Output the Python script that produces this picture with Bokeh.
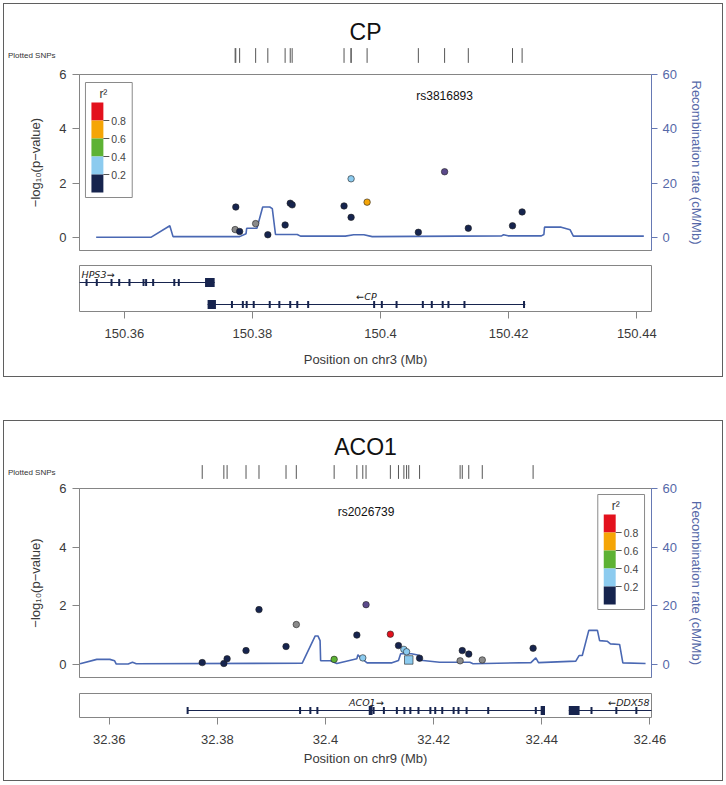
from bokeh.plotting import figure
from bokeh.models import Range1d, LinearAxis, FixedTicker, ColumnDataSource
from bokeh.layouts import column
from bokeh.core.properties import value
from bokeh.embed import file_html
from bokeh.resources import INLINE

FONT = "Liberation Sans"

# ------------------------------------------------------------------ data: CP
cp_title = "CP"
cp_chrom = "chr3"
cp_index_snp = "rs3816893"
cp_index_pos = 150.4100
cp_xlim = [150.3530, 150.4423]
cp_xticks = [150.36, 150.38, 150.40, 150.42, 150.44]
cp_xtick_labels = ["150.36", "150.38", "150.4", "150.42", "150.44"]
cp_snp_pos = [150.3774, 150.3773, 150.3780, 150.3805, 150.3824, 150.3851, 150.3859,
              150.3862, 150.3943, 150.3954, 150.3954, 150.3979, 150.4059, 150.4100,
              150.4137, 150.4206, 150.4221]
cp_snp_logp = [1.12, 0.29, 0.22, 0.51, 0.10, 0.46, 1.26, 1.20, 1.16, 0.74, 2.16,
               1.30, 0.19, 2.42, 0.34, 0.43, 0.94]
cp_snp_r2 = [0.1, None, 0.1, None, 0.1, 0.1, 0.1, 0.1, 0.1, 0.1, 0.3, 0.7, 0.1,
             1.0, 0.1, 0.1, 0.1]
cp_snp_shape = ["circle"] * 17
cp_rec_pos = [150.3556, 150.3642, 150.3671, 150.3676, 150.3780, 150.3790, 150.3791,
              150.3807, 150.3816, 150.3827, 150.3831, 150.3836, 150.3870, 150.3875,
              150.3945, 150.3958, 150.3974, 150.3987, 150.4189, 150.4192, 150.4199,
              150.4251, 150.4255, 150.4256, 150.4282, 150.4296, 150.4301, 150.4411]
cp_rec_rate = [0.1, 0.1, 4.3, 0.3, 0.3, 1.4, 3.4, 3.4, 11.2, 11.2, 10.6, 1.1, 1.1, 0.5,
               0.5, 1.0, 1.0, 0.3, 0.6, 1.0, 0.6, 0.6, 1.1, 3.8, 3.8, 2.8, 0.5, 0.5]
cp_gene_names = ["HPS3", "CP"]
cp_gene_start = [150.3300, 150.3730]
cp_gene_end = [150.3741, 150.4226]
cp_gene_strand = ["+", "-"]
cp_gene_row = [0, 1]
cp_gene_exons = [
    [150.3541, 150.3557, 150.3580, 150.3592, 150.3608, 150.3630, 150.3634, 150.3645,
     150.3678, 150.3685],
    [150.3768, 150.3785, 150.3791, 150.3802, 150.3827, 150.3842, 150.3859, 150.3870,
     150.3887, 150.3990, 150.4002, 150.4025, 150.4066, 150.4080, 150.4097, 150.4106,
     150.4131, 150.4224],
]
cp_gene_blocks = [[(150.3726, 150.3741)], [(150.3730, 150.3743)]]

# ---------------------------------------------------------------- data: ACO1
aco_title = "ACO1"
aco_chrom = "chr9"
aco_index_snp = "rs2026739"
aco_index_pos = 32.4075
aco_xlim = [32.3545, 32.4603]
aco_xticks = [32.36, 32.38, 32.40, 32.42, 32.44, 32.46]
aco_xtick_labels = ["32.36", "32.38", "32.4", "32.42", "32.44", "32.46"]
aco_snp_pos = [32.3772, 32.3812, 32.3818, 32.3853, 32.3877, 32.3927, 32.3946, 32.4016,
               32.4058, 32.4069, 32.4075, 32.4120, 32.4135, 32.4145, 32.4150, 32.4154,
               32.4174, 32.4253, 32.4265, 32.4249, 32.4290, 32.4384]
aco_snp_logp = [0.05, 0.02, 0.18, 0.46, 1.86, 0.60, 1.35, 0.16, 0.99, 0.21, 2.03,
                1.02, 0.63, 0.50, 0.42, 0.14, 0.20, 0.46, 0.34, 0.11, 0.14, 0.54]
aco_snp_r2 = [0.1, 0.1, 0.1, 0.1, 0.1, 0.1, None, 0.5, 0.1, 0.3, 1.0, 0.9, 0.1, 0.3,
              0.3, 0.3, 0.1, 0.1, 0.1, None, None, 0.1]
aco_snp_shape = ["circle"] * 15 + ["square"] + ["circle"] * 6
aco_rec_pos = [32.3546, 32.3577, 32.3601, 32.3610, 32.3613, 32.3635, 32.3643, 32.3650,
               32.3957, 32.3981, 32.3986, 32.3990, 32.3991, 32.4009, 32.4021, 32.4058,
               32.4060, 32.4064, 32.4077, 32.4123, 32.4135, 32.4139, 32.4159, 32.4173,
               32.4176, 32.4211, 32.4267, 32.4273, 32.4380, 32.4389, 32.4394, 32.4463,
               32.4469, 32.4475, 32.4487, 32.4503, 32.4507, 32.4521, 32.4527, 32.4544,
               32.4550, 32.4592]
aco_rec_rate = [0.1, 1.6, 1.6, 1.1, 0.0, 0.0, 0.6, 0.1, 0.3, 9.6, 9.6, 8.0, 1.1, 1.1,
                0.2, 1.8, 3.2, 2.3, 0.4, 0.4, 1.2, 3.5, 3.5, 3.0, 1.3, 0.6, 0.6, 0.1,
                0.5, 2.1, 0.5, 1.0, 2.9, 2.9, 11.5, 11.5, 8.0, 7.8, 6.9, 6.7, 0.4, 0.2]
aco_gene_names = ["ACO1", "DDX58"]
aco_gene_start = [32.3745, 32.4450]
aco_gene_end = [32.4406, 32.5000]
aco_gene_strand = ["+", "-"]
aco_gene_row = [0, 0]
aco_gene_exons = [
    [32.3745, 32.3953, 32.3972, 32.3985, 32.4089, 32.4108, 32.4132, 32.4146, 32.4157,
     32.4172, 32.4194, 32.4203, 32.4216, 32.4237, 32.4246, 32.4261, 32.4301, 32.4389],
    [32.4492, 32.4538, 32.4575],
]
aco_gene_blocks = [[(32.4080, 32.4087), (32.4398, 32.4406)], [(32.4450, 32.4470)]]

ld_breaks = [0.2, 0.4, 0.6, 0.8]
ld_tick_labels = ["0.2", "0.4", "0.6", "0.8"]

# ------------------------------------------------------------------- styles
LD_COLORS = ["#16244e", "#8ccbef", "#5db234", "#f5a506", "#e3111d"]
INDEX_COLOR = "#5b4a8b"
NA_COLOR = "#8a8a8a"
FRAME = "#858585"
TXT = "#3a3a3a"
BLUE_AX = "#6679b4"
BLUE_LINE = "#4a68b3"
GENE = "#17244e"
W = 718
FW = 575
ML = 72
MR = W - ML - FW


def ld_color(r2, pos, index_pos):
    if abs(pos - index_pos) < 1e-9:
        return INDEX_COLOR
    if r2 is None:
        return NA_COLOR
    return LD_COLORS[sum(r2 >= b for b in ld_breaks)]


def base_fig(h, xr, yr, top, bottom, **kw):
    p = figure(width=W, height=h, x_range=xr, y_range=yr, x_axis_location=None,
               y_axis_location=None, output_backend="svg", toolbar_location=None,
               min_border_left=ML, min_border_right=MR, min_border_top=top,
               min_border_bottom=bottom, **kw)
    p.grid.visible = False
    p.background_fill_color = "white"
    p.border_fill_color = "white"
    return p


def style_axis(ax, color, label_color, size="13px"):
    ax.axis_line_color = color
    ax.major_tick_line_color = color
    ax.minor_tick_line_color = None
    ax.minor_tick_out = 0
    ax.minor_tick_in = 0
    ax.major_tick_in = 0
    ax.major_label_text_font = FONT
    ax.major_label_text_font_size = size
    ax.major_label_text_color = label_color
    ax.axis_label_text_font = FONT
    ax.axis_label_text_font_size = size
    ax.axis_label_text_font_style = "normal"
    ax.axis_label_text_color = label_color


def add_ld_legend(p, xlim, ylo, yhi, fh, side):
    """r^2 key drawn inside the frame (LocusZoom style), placed by pixel offsets."""
    sx = (xlim[1] - xlim[0]) / FW
    sy = (yhi - ylo) / fh
    bw, bh = 47, 115
    lx = 6 if side == "left" else FW - 7 - bw
    ly = 8 if side == "left" else 6

    def X(px):
        return xlim[0] + px * sx

    def Y(py):
        return yhi - py * sy

    p.quad(left=[X(lx)], right=[X(lx + bw)], top=[Y(ly)], bottom=[Y(ly + bh)],
           fill_color="white", line_color="#8a8a8a", line_width=1)
    seg = 18
    cols = list(reversed(LD_COLORS))
    p.quad(left=[X(lx + 6)] * len(cols), right=[X(lx + 18)] * len(cols),
           top=[Y(ly + 20 + i * seg) for i in range(len(cols))],
           bottom=[Y(ly + 20 + (i + 1) * seg) for i in range(len(cols))],
           fill_color=cols, line_color=None)
    labs = list(reversed(ld_tick_labels))
    ty = [Y(ly + 20 + (j + 1) * seg) for j in range(len(labs))]
    p.segment(x0=[X(lx + 18)] * len(labs), x1=[X(lx + 24)] * len(labs), y0=ty, y1=ty,
              line_color="#555555", line_width=1)
    p.text(x=[X(lx + 26)] * len(labs), y=ty, text=labs, text_font=value(FONT),
           text_font_size="10.5px", text_color="#444444", text_align="left",
           text_baseline="middle")
    p.text(x=[X(lx + 18)], y=[Y(ly + 11)], text=["r\u00b2"], text_font=value(FONT),
           text_font_size="12px", text_color="#333333", text_align="center",
           text_baseline="middle")


def build_panel(title, chrom, index_snp, index_pos, xlim, xticks, xtick_labels,
                snp_pos, snp_logp, snp_r2, snp_shape, rec_pos, rec_rate,
                g_names, g_start, g_end, g_strand, g_row, g_exons, g_blocks,
                geo, legend_side):
    xr = Range1d(xlim[0], xlim[1])

    # ---- title + plotted SNPs strip
    pa = base_fig(geo["hA"], xr, Range1d(0, 1), geo["at"], 0, title=title)
    pa.outline_line_color = None
    pa.title.align = "center"
    pa.title.text_font = FONT
    pa.title.text_font_size = "23px"
    pa.title.text_font_style = "normal"
    pa.title.text_color = "#111111"
    pa.title.standoff = geo["tstand"]
    sa = LinearAxis(ticker=FixedTicker(ticks=[0.5]),
                    major_label_overrides={0.5: "Plotted SNPs"})
    style_axis(sa, None, "#333333", "8px")
    sa.major_tick_out = 0
    sa.major_label_standoff = 24
    pa.add_layout(sa, "left")
    pa.segment(x0=snp_pos, x1=snp_pos, y0=0.04, y1=0.96, line_color="#555555",
               line_width=1)

    # ---- main association plot
    ylo, yhi = geo["ylo"], 6
    fh = geo["hB"] - geo["bt"] - geo["bb"]
    pb = base_fig(geo["hB"], xr, Range1d(ylo, yhi), geo["bt"], geo["bb"])
    pb.outline_line_color = FRAME
    pb.extra_y_ranges = {"rec": Range1d(ylo * 10, yhi * 10)}
    la = LinearAxis(ticker=FixedTicker(ticks=[0, 2, 4, 6]),
                    axis_label="\u2212log\u2081\u2080(p\u2212value)")
    style_axis(la, FRAME, TXT)
    la.major_tick_out = 7
    la.major_label_standoff = 6
    la.axis_label_standoff = 13
    pb.add_layout(la, "left")
    ra = LinearAxis(y_range_name="rec", ticker=FixedTicker(ticks=[0, 20, 40, 60]),
                    axis_label="Recombination rate (cM/Mb)")
    style_axis(ra, BLUE_AX, "#5568a8")
    ra.major_tick_out = 6
    ra.major_label_standoff = 5
    ra.axis_label_standoff = 9
    pb.add_layout(ra, "right")

    pb.line(rec_pos, rec_rate, y_range_name="rec", line_color=BLUE_LINE, line_width=1.6)

    add_ld_legend(pb, xlim, ylo, yhi, fh, legend_side)

    cols = [ld_color(r, p, index_pos) for r, p in zip(snp_r2, snp_pos)]
    for shape, size in (("circle", 6.5), ("square", 8.5)):
        idx = [i for i, s in enumerate(snp_shape) if s == shape]
        if not idx:
            continue
        src = ColumnDataSource(dict(x=[snp_pos[i] for i in idx],
                                    y=[snp_logp[i] for i in idx],
                                    c=[cols[i] for i in idx]))
        pb.scatter("x", "y", source=src, marker=shape, size=size, fill_color="c",
                   line_color="#222222", line_width=0.6)

    pb.text(x=[index_pos], y=[5.2], text=[index_snp], text_font=value(FONT),
            text_font_size="12px", text_color="#111111", text_align="center",
            text_baseline="middle")

    # ---- gene track
    nrows = max(g_row) + 1
    pc = base_fig(geo["hC"], xr, Range1d(-(nrows - 1) - 0.318, 0.773),
                  geo["ct"], geo["cb"])
    pc.outline_line_color = FRAME
    xa = LinearAxis(ticker=FixedTicker(ticks=xticks),
                    major_label_overrides=dict(zip(xticks, xtick_labels)),
                    axis_label="Position on %s (Mb)" % chrom)
    style_axis(xa, FRAME, TXT)
    xa.axis_line_color = None
    xa.major_tick_out = 7
    xa.major_label_standoff = geo["xls"]
    xa.axis_label_standoff = geo["xas"]
    pc.add_layout(xa, "below")

    for name, s, e, st, r, ex, bl in zip(g_names, g_start, g_end, g_strand, g_row,
                                          g_exons, g_blocks):
        y = -r
        pc.segment(x0=[s], x1=[e], y0=[y], y1=[y], line_color=GENE, line_width=1)
        pc.rect(x=ex, y=[y] * len(ex), width=2, height=7, width_units="screen",
                height_units="screen", fill_color=GENE, line_color=None)
        pc.rect(x=[(a + b) / 2 for a, b in bl], y=[y] * len(bl),
                width=[b - a for a, b in bl], height=9, height_units="screen",
                fill_color=GENE, line_color=None)
        label = name + "\u2192" if st == "+" else "\u2190" + name
        c = (s + e) / 2
        if c < xlim[0]:
            lx, al, off = xlim[0], "left", 2
        elif c > xlim[1]:
            lx, al, off = xlim[1], "right", -2
        else:
            lx, al, off = c, "center", 0
        pc.text(x=[lx], y=[y + 0.36], text=[label], x_offset=off,
                text_font=value("DejaVu Sans"), text_font_style="italic",
                text_font_size="9.5px", text_color="#222222",
                text_align=al, text_baseline="middle")

    return column(pa, pb, pc, spacing=0,
                  styles={"outline": "1px solid #5f5f5f"})


geo_top = dict(hA=59, at=43, tstand=6, hB=195, bt=11, bb=8, ylo=-0.48,
               hC=118, ct=7, cb=65, xls=10, xas=11)
geo_bot = dict(hA=58, at=43, tstand=10, hB=206, bt=9, bb=8, ylo=-0.46,
               hC=95, ct=8, cb=63, xls=10, xas=4)

top = build_panel(cp_title, cp_chrom, cp_index_snp, cp_index_pos, cp_xlim, cp_xticks,
                  cp_xtick_labels, cp_snp_pos, cp_snp_logp, cp_snp_r2, cp_snp_shape,
                  cp_rec_pos, cp_rec_rate, cp_gene_names, cp_gene_start, cp_gene_end,
                  cp_gene_strand, cp_gene_row, cp_gene_exons, cp_gene_blocks,
                  geo_top, "left")
bot = build_panel(aco_title, aco_chrom, aco_index_snp, aco_index_pos, aco_xlim,
                  aco_xticks, aco_xtick_labels, aco_snp_pos, aco_snp_logp, aco_snp_r2,
                  aco_snp_shape, aco_rec_pos, aco_rec_rate, aco_gene_names,
                  aco_gene_start, aco_gene_end, aco_gene_strand, aco_gene_row,
                  aco_gene_exons, aco_gene_blocks, geo_bot, "right")

p = column(top, bot, spacing=45, margin=(4, 0, 0, 4))
open("out.html", "w").write(file_html(p, INLINE))
